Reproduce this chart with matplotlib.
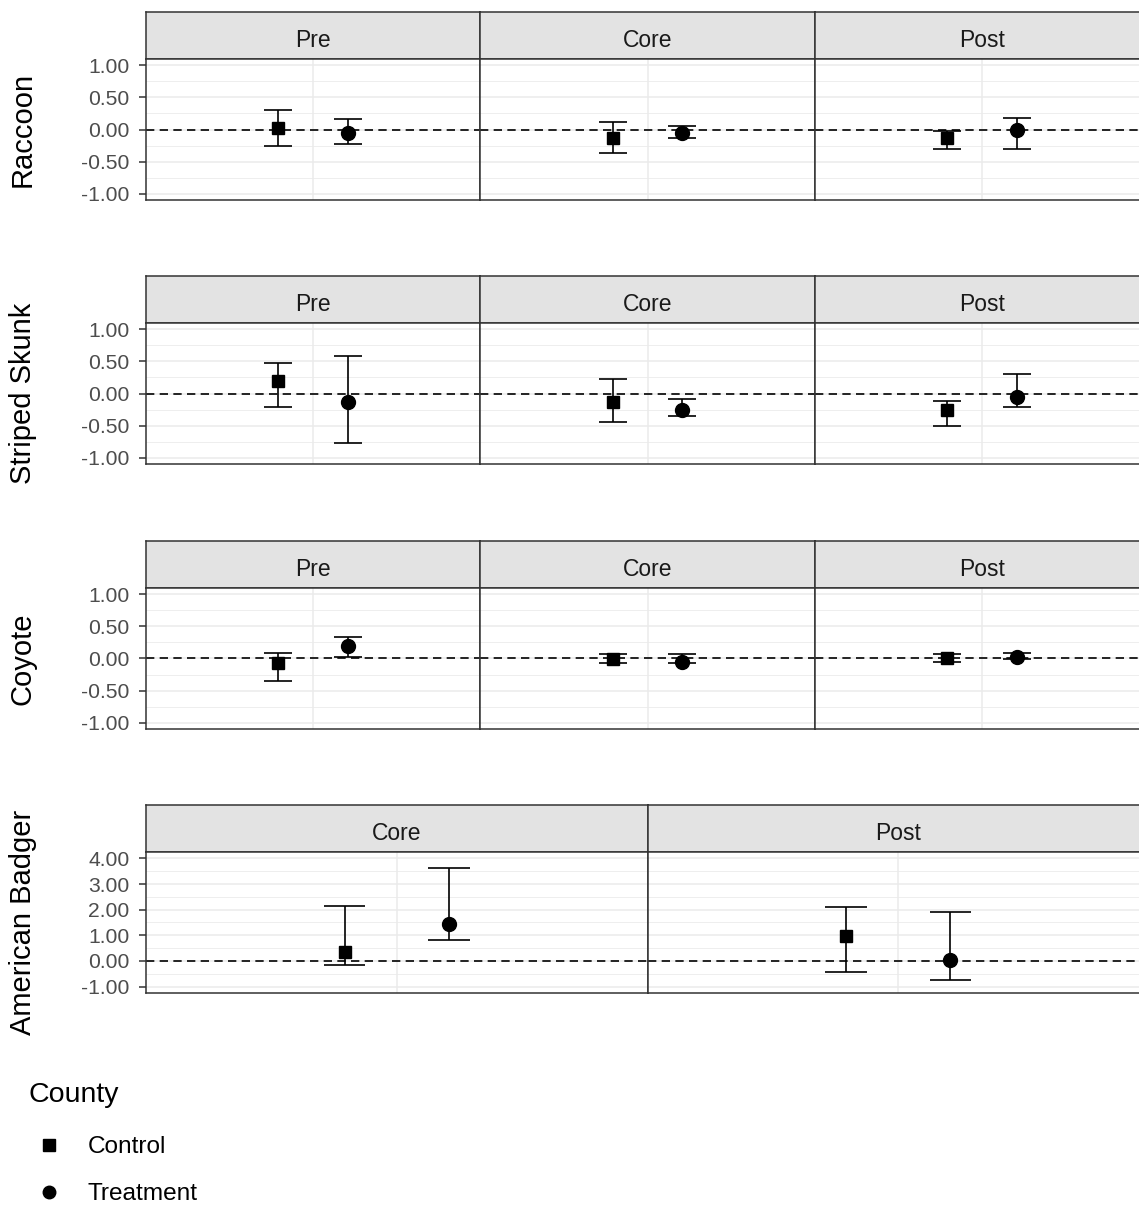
import matplotlib
matplotlib.use("Agg")
import matplotlib.pyplot as plt
from matplotlib.lines import Line2D
import numpy as np

plt.rcParams["font.family"] = ["Liberation Sans", "DejaVu Sans"]

# --- data (estimate, lower, upper) ---
groups = ["Control", "Treatment"]

raccoon_periods = ["Pre", "Core", "Post"]
raccoon_control = [0.03, -0.13, -0.13]
raccoon_control_lo = [-0.26, -0.37, -0.30]
raccoon_control_hi = [0.30, 0.12, -0.02]
raccoon_treat = [-0.06, -0.05, -0.01]
raccoon_treat_lo = [-0.23, -0.14, -0.30]
raccoon_treat_hi = [0.16, 0.05, 0.18]

skunk_periods = ["Pre", "Core", "Post"]
skunk_control = [0.19, -0.14, -0.26]
skunk_control_lo = [-0.21, -0.44, -0.51]
skunk_control_hi = [0.48, 0.23, -0.12]
skunk_treat = [-0.13, -0.25, -0.05]
skunk_treat_lo = [-0.77, -0.35, -0.21]
skunk_treat_hi = [0.58, -0.09, 0.30]

coyote_periods = ["Pre", "Core", "Post"]
coyote_control = [-0.07, -0.01, 0.00]
coyote_control_lo = [-0.35, -0.07, -0.06]
coyote_control_hi = [0.09, 0.07, 0.07]
coyote_treat = [0.20, -0.05, 0.02]
coyote_treat_lo = [0.03, -0.07, -0.01]
coyote_treat_hi = [0.33, 0.07, 0.09]

badger_periods = ["Core", "Post"]
badger_control = [0.34, 0.99]
badger_control_lo = [-0.16, -0.42]
badger_control_hi = [2.16, 2.09]
badger_treat = [1.44, 0.04]
badger_treat_lo = [0.80, -0.75]
badger_treat_hi = [3.61, 1.91]

small_ticks = [-1.0, -0.5, 0.0, 0.5, 1.0]
badger_ticks = [-1.0, 0.0, 1.0, 2.0, 3.0, 4.0]

rows = [
    ("Raccoon", raccoon_periods, small_ticks,
     (raccoon_control, raccoon_control_lo, raccoon_control_hi),
     (raccoon_treat, raccoon_treat_lo, raccoon_treat_hi)),
    ("Striped Skunk", skunk_periods, small_ticks,
     (skunk_control, skunk_control_lo, skunk_control_hi),
     (skunk_treat, skunk_treat_lo, skunk_treat_hi)),
    ("Coyote", coyote_periods, small_ticks,
     (coyote_control, coyote_control_lo, coyote_control_hi),
     (coyote_treat, coyote_treat_lo, coyote_treat_hi)),
    ("American Badger", badger_periods, badger_ticks,
     (badger_control, badger_control_lo, badger_control_hi),
     (badger_treat, badger_treat_lo, badger_treat_hi)),
]

# --- layout (pixels) ---
W, H = 1139, 1205
fig = plt.figure(figsize=(W / 100, H / 100), dpi=100)

PANEL_LEFT, PANEL_RIGHT = 146, 1149   # right side is cropped like the original
STRIP_TOPS = [12, 276, 541, 805]
STRIP_H, PANEL_H = 47, 141

BORDER = "#333333"
GRID = "#EBEBEB"
markers = {"Control": ("s", 9), "Treatment": ("o", 10)}
dodge = [-0.125, 0.125]
cap = 0.05


def px_axes(left, top, width, height):
    return fig.add_axes([left / W, 1 - (top + height) / H, width / W, height / H])


for r, (name, periods, ticks, ctrl, trt) in enumerate(rows):
    n = len(periods)
    colw = (PANEL_RIGHT - PANEL_LEFT) / n
    top = STRIP_TOPS[r]
    span = ticks[-1] - ticks[0]
    ylim = (ticks[0] - 0.05 * span, ticks[-1] + 0.05 * span)
    step = ticks[1] - ticks[0]
    minor = [t + step / 2 for t in ticks[:-1]]

    for j, period in enumerate(periods):
        left = PANEL_LEFT + j * colw

        # strip
        sax = px_axes(left, top, colw, STRIP_H)
        sax.set_facecolor("#E3E3E3")
        sax.set_xticks([])
        sax.set_yticks([])
        for s in sax.spines.values():
            s.set_color(BORDER)
            s.set_linewidth(1.1)
        sax.text(0.5, 0.26, period, transform=sax.transAxes, ha="center",
                 va="baseline", fontsize=16.5, color="#1A1A1A")

        # panel
        ax = px_axes(left, top + STRIP_H, colw, PANEL_H)
        ax.set_xlim(-0.6, 0.6)
        ax.set_ylim(*ylim)
        for y in ticks:
            ax.axhline(y, color=GRID, lw=1.1, zorder=0)
        for y in minor:
            ax.axhline(y, color=GRID, lw=0.6, zorder=0)
        ax.axvline(0, color=GRID, lw=1.1, zorder=0)
        ax.axhline(0, color="black", lw=1.2, ls=(0, (5, 3.2)), zorder=1)

        for g, (est, lo, hi), dx in zip(groups, (ctrl, trt), dodge):
            ax.vlines(dx, lo[j], hi[j], color="black", lw=1.2, zorder=2)
            ax.hlines([lo[j], hi[j]], dx - cap, dx + cap, color="black",
                      lw=1.2, zorder=2)
            m, ms = markers[g]
            ax.plot(dx, est[j], marker=m, ms=ms, color="black", ls="none",
                    zorder=3)

        ax.set_xticks([])
        if j == 0:
            ax.set_yticks(ticks)
            ax.set_yticklabels([f"{t:.2f}" for t in ticks])
            ax.tick_params(axis="y", length=5, width=1.1, color=BORDER,
                           pad=7, labelsize=15.2, labelcolor="#4D4D4D")
        else:
            ax.set_yticks([])
        for s in ax.spines.values():
            s.set_color(BORDER)
            s.set_linewidth(1.1)
            s.set_zorder(4)

    # row label
    yc = top + STRIP_H + PANEL_H / 2
    fig.text(23 / W, 1 - yc / H, name, rotation=90, ha="center", va="center",
             fontsize=21, color="black")

# --- legend ---
fig.text(28 / W, 1 - 1095 / H, "County", ha="left", va="center",
         fontsize=20.5, color="black")
handles = [Line2D([], [], marker=markers[g][0], ms=markers[g][1] - 1,
                  color="black", ls="none") for g in groups]
fig.legend(handles, groups, loc="upper left",
           bbox_to_anchor=(28 / W, 1 - 1136 / H), frameon=False,
           fontsize=17.6, handlelength=1.7, handletextpad=0.75,
           labelspacing=1.03, borderpad=0, borderaxespad=0)

fig.savefig("out.png", dpi=100)
